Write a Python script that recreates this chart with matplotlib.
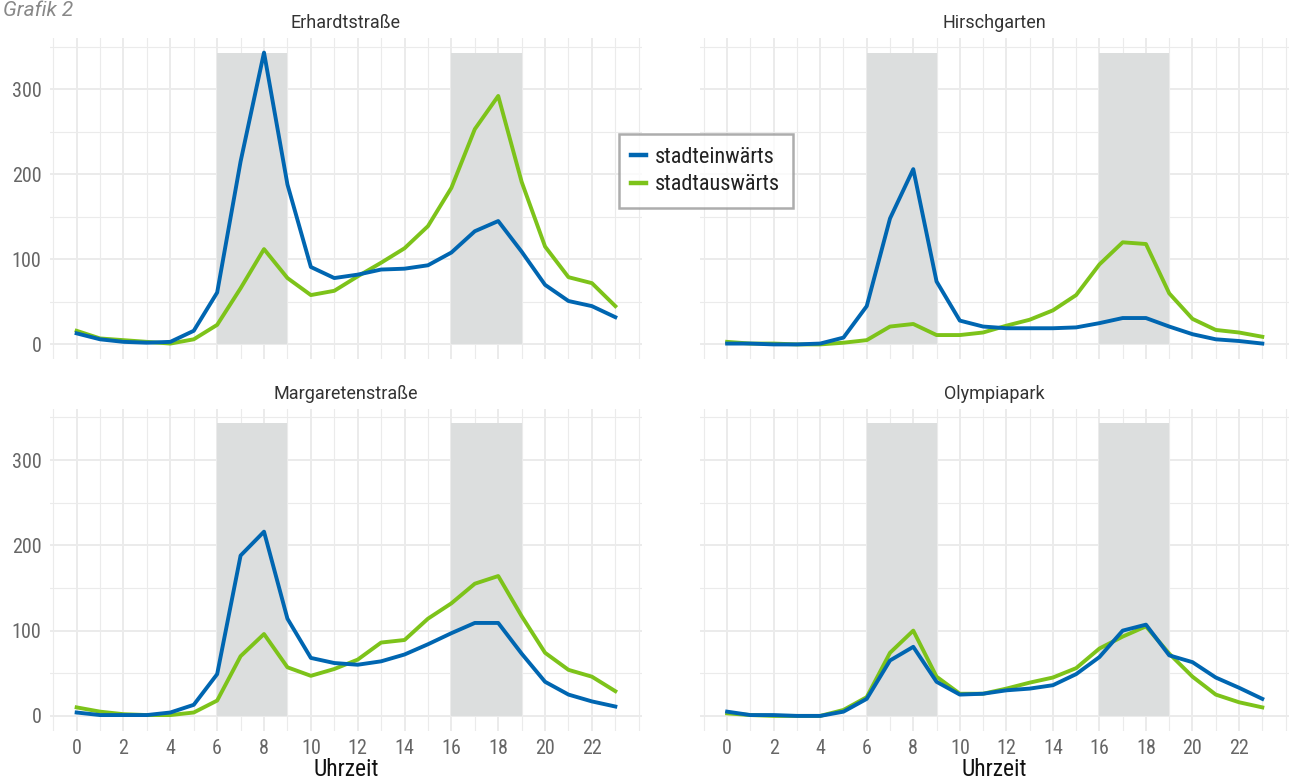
import matplotlib
matplotlib.use("Agg")
import matplotlib.pyplot as plt
from matplotlib.lines import Line2D
import numpy as np

hours = list(range(24))
stations = ["Erhardtstraße", "Hirschgarten", "Margaretenstraße", "Olympiapark"]

einwaerts = {
    "Erhardtstraße": [13, 6, 3, 2, 3, 16, 61, 215, 343, 188, 91, 78, 82, 88, 89, 93, 108, 133, 145, 109, 70, 51, 45, 32],
    "Hirschgarten": [1, 1, 0, 0, 1, 8, 45, 148, 206, 74, 28, 21, 19, 19, 19, 20, 25, 31, 31, 21, 12, 6, 4, 1],
    "Margaretenstraße": [4, 1, 1, 1, 4, 13, 49, 188, 216, 114, 68, 62, 60, 64, 72, 84, 97, 109, 109, 73, 40, 25, 17, 11],
    "Olympiapark": [5, 1, 1, 0, 0, 5, 20, 65, 81, 40, 25, 26, 30, 32, 36, 49, 69, 100, 107, 71, 63, 45, 33, 20],
}
auswaerts = {
    "Erhardtstraße": [16, 7, 5, 3, 1, 6, 23, 66, 112, 78, 58, 63, 80, 96, 113, 139, 184, 253, 292, 191, 115, 79, 72, 45],
    "Hirschgarten": [3, 1, 1, 0, 0, 2, 5, 21, 24, 11, 11, 14, 22, 29, 40, 58, 94, 120, 118, 60, 30, 17, 14, 9],
    "Margaretenstraße": [10, 5, 2, 1, 1, 4, 18, 70, 96, 57, 47, 55, 66, 86, 89, 114, 132, 155, 164, 117, 74, 54, 46, 29],
    "Olympiapark": [3, 1, 0, 0, 0, 7, 22, 74, 100, 46, 26, 26, 32, 39, 45, 56, 79, 93, 105, 73, 46, 25, 16, 10],
}
peak_windows = [(6, 9), (16, 19)]
xticks = list(range(0, 23, 2))
yticks = [0, 100, 200, 300]
series_labels = ["stadteinwärts", "stadtauswärts"]

BLUE = "#0066B1"
GREEN = "#7DC31A"
SHADE = "#DCDEDE"
GRID = "#EBEBEB"
cond = ["Roboto Condensed", "Liberation Sans Narrow", "DejaVu Sans"]

W, H = 1291, 783
fig = plt.figure(figsize=(W / 100, H / 100), dpi=100)

ymax_data = max(max(max(v) for v in einwaerts.values()), max(max(v) for v in auswaerts.values()))
ylim = (-0.05 * ymax_data, 1.05 * ymax_data)
xlim = (-1.15, 24.15)

positions = {
    0: (0.0385, 0.5415, 0.459, 0.410),
    1: (0.5425, 0.5415, 0.456, 0.410),
    2: (0.0385, 0.0670, 0.459, 0.411),
    3: (0.5425, 0.0670, 0.456, 0.411),
}

for i, st in enumerate(stations):
    ax = fig.add_axes(positions[i])
    ax.set_xlim(*xlim)
    ax.set_ylim(*ylim)
    for s in ax.spines.values():
        s.set_visible(False)
    # grid
    for x in range(-1, 25):
        major = (x % 2 == 0) and 0 <= x <= 22
        ax.axvline(x, color=GRID, lw=1.4 if major else 0.8, zorder=0)
    for y in range(0, 400, 50):
        major = y % 100 == 0
        ax.axhline(y, color=GRID, lw=1.4 if major else 0.8, zorder=0)
    for a, b in peak_windows:
        ax.fill_between([a, b], 0, ymax_data, color=SHADE, lw=0, zorder=1)
    ax.plot(hours, auswaerts[st], color=GREEN, lw=2.8, zorder=3, solid_joinstyle="round")
    ax.plot(hours, einwaerts[st], color=BLUE, lw=2.8, zorder=4, solid_joinstyle="round")
    ax.set_title(st, fontsize=13, color="#333333", pad=7, family=["Roboto", "DejaVu Sans"])
    ax.set_xticks(xticks)
    ax.set_yticks(yticks)
    ax.tick_params(length=0, labelsize=14.5, labelcolor="#666666", pad=6)
    for lab in ax.get_xticklabels() + ax.get_yticklabels():
        lab.set_family(cond)
    if i < 2:
        ax.set_xticklabels([])
    else:
        ax.set_xlabel("Uhrzeit", fontsize=17, color="#111111", family=cond, labelpad=0)
    if i % 2 == 1:
        ax.set_yticklabels([])

handles = [Line2D([], [], color=BLUE, lw=3.2), Line2D([], [], color=GREEN, lw=3.2)]
leg = fig.legend(handles, series_labels, loc="center", bbox_to_anchor=(0.5465, 0.7816),
                 prop={"family": cond, "size": 16}, handlelength=0.7, handletextpad=0.4,
                 frameon=True, fancybox=False, edgecolor="#999999", borderpad=0.55,
                 labelspacing=0.3, borderaxespad=0)
leg.get_frame().set_linewidth(1.8)
for t in leg.get_texts():
    t.set_color("#222222")

fig.text(0.002, 0.999, "Grafik 2", va="top", ha="left", fontsize=15, style="italic",
         color="#888888", family=["Roboto", "DejaVu Sans"])

fig.savefig("out.png", dpi=100)
